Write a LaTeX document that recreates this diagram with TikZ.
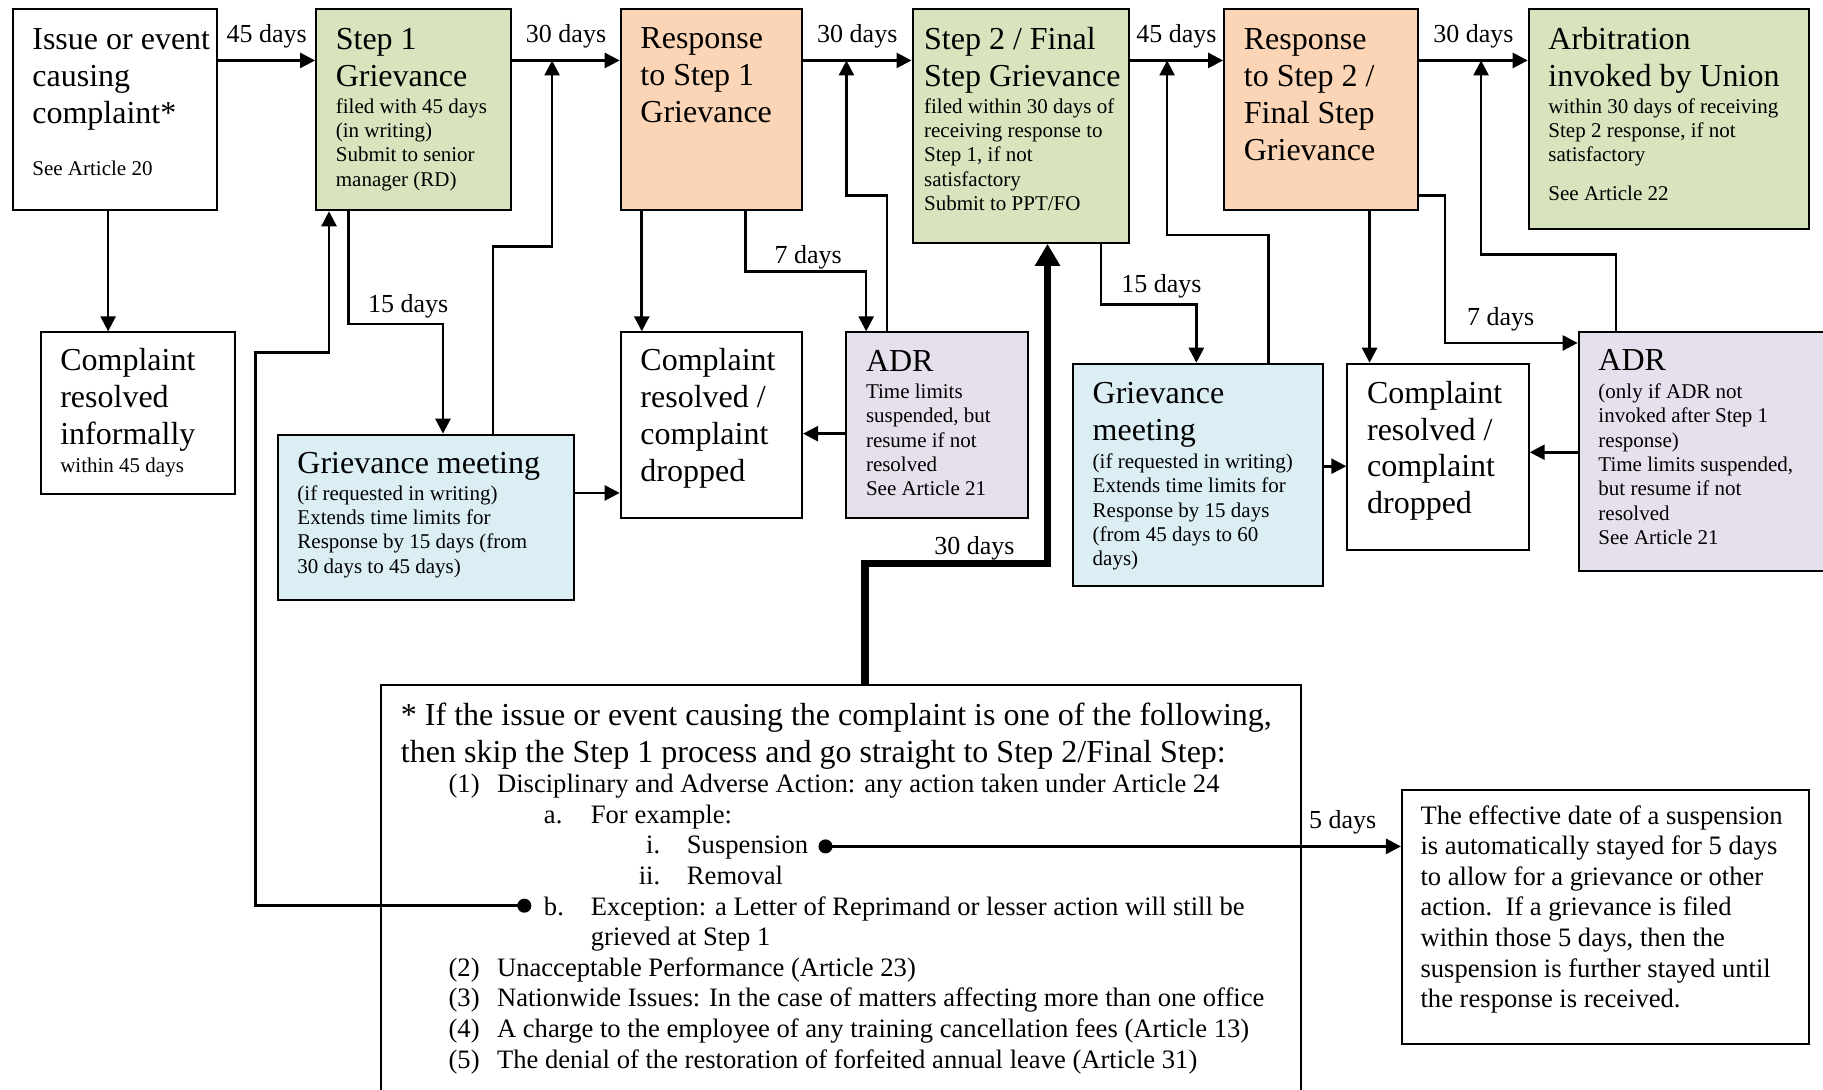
\documentclass[tikz,border=0pt]{standalone}
\usepackage{fontspec}
\setmainfont{Liberation Serif}
\usepackage{xcolor}
\usepackage{tikz}
\usetikzlibrary{arrows.meta, calc}

\definecolor{stepgreen}{HTML}{D7E4BD}
\definecolor{respcolor}{HTML}{FBD5B5}
\definecolor{meetblue}{HTML}{DBEEF4}
\definecolor{adrpurple}{HTML}{E5E0EC}

\newlength\pxu
\setlength\pxu{0.5813pt}
\newlength\boxpad
\setlength\boxpad{17\pxu}

\newcommand{\headfont}{\fontsize{16}{18.4}\selectfont}
\newcommand{\smallfont}{\fontsize{10.5}{12.2}\selectfont}
\newcommand{\listfont}{\fontsize{13.3}{15.3}\selectfont}

% box text: [first baseline]{width}{height}{lines}
\newcommand{\boxtext}[4][35]{\parbox[t][#3\pxu][t]{#2\pxu}{\raggedright\leftskip=\boxpad\rightskip=-12\pxu plus 1fil\rule{0pt}{#1\pxu}#4}}

\begin{document}
\begin{tikzpicture}[
                x=0.5813pt, y=-0.5813pt,
                box/.style={rectangle, draw, line width=1pt, anchor=north west, inner sep=0pt},
                grievance/.style={fill=stepgreen},
                response/.style={fill=respcolor},
                meeting/.style={fill=meetblue},
                adr/.style={fill=adrpurple},
                arr/.style={-{Triangle[length=7.5pt, width=7.5pt]}, line width=1.3pt},
                dotarr/.style={{Circle[length=7pt]}-{Triangle[length=7.5pt, width=7.5pt]}, line width=1.3pt},
                thickarr/.style={-{Triangle[length=11pt, width=12pt]}, line width=3.6pt},
                lbl/.style={font=\fontsize{13}{15}\selectfont, inner sep=2.5pt}
            ]
                \useasboundingbox (0,0) rectangle (1568,937);

                % Top row
                \node[box] (issue) at (10,7) {\boxtext{176}{173}{\headfont Issue or event\\ causing\\ complaint*\\[13.7pt] \smallfont See Article 20}};
                \node[box, grievance] (step1) at (271,7) {\boxtext{168}{173}{\headfont Step 1\\ Grievance\\[1pt] \smallfont filed with 45 days\\ (in writing)\\ Submit to senior\\ manager (RD)}};
                \node[box, response] (resp1) at (533,7) {\boxtext[34]{156}{173}{\headfont Response\\ to Step 1\\ Grievance}};
                \node[box, grievance] (step2) at (784,7) {\setlength\boxpad{10\pxu}\boxtext{186}{201}{\headfont Step 2 / Final\\ Step Grievance\\[1pt] \smallfont filed within 30 days of\\ receiving response to\\ Step 1, if not\\ satisfactory\\ Submit to PPT/FO}};
                \node[box, response] (resp2) at (1052,7) {\boxtext{167}{173}{\headfont Response\\ to Step 2 /\\ Final Step\\ Grievance}};
                \node[box, grievance] (arbit) at (1314,7) {\boxtext{241}{189}{\headfont Arbitration\\ invoked by Union\\[1pt] \smallfont within 30 days of receiving\\ Step 2 response, if not\\ satisfactory\\[7pt] See Article 22}};

                % Second row
                \node[box] (informal) at (34,285) {\boxtext[33]{167}{139}{\headfont Complaint\\ resolved\\ informally\\[1.7pt] \smallfont within 45 days}};
                \node[box, meeting] (meet1) at (238,373) {\boxtext[33]{255}{142}{\headfont Grievance meeting\\[1.3pt] \smallfont (if requested in writing)\\ Extends time limits for\\ Response by 15 days (from\\ 30 days to 45 days)}};
                \node[box] (drop1) at (533,285) {\boxtext[33]{156}{160}{\headfont Complaint\\ resolved /\\ complaint\\ dropped}};
                \node[box, adr] (adr1) at (727,285) {\boxtext[34]{156}{160}{\headfont ADR\\[1pt] \smallfont Time limits\\ suspended, but\\ resume if not\\ resolved\\ See Article 21}};
                \node[box, meeting] (meet2) at (922,312) {\boxtext[34]{215}{191}{\headfont Grievance\\ meeting\\[1.9pt] \smallfont (if requested in writing)\\ Extends time limits for\\ Response by 15 days\\ (from 45 days to 60\\ days)}};
                \node[box] (drop2) at (1158,312) {\boxtext[34]{156}{160}{\headfont Complaint\\ resolved /\\ complaint\\ dropped}};
                \node[box, adr] (adr2) at (1357,285) {\boxtext[33]{225}{205}{\headfont ADR\\[1.6pt] \smallfont (only if ADR not\\ invoked after Step 1\\ response)\\ Time limits suspended,\\ but resume if not\\ resolved\\ See Article 21}};

                % Footnote and suspension boxes
                \node[box] (note) at (327,588) {\boxtext{791}{360}{\headfont * If the issue or event causing the complaint is one of the following,\\ then skip the Step 1 process and go straight to Step 2/Final Step:\\
                    \listfont
                    \hspace*{41\pxu}\makebox[41.7\pxu][l]{(1)}Disciplinary and Adverse Action: any action taken under Article 24\\
                    \hspace*{123\pxu}\makebox[40.4\pxu][l]{a.}For example:\\
                    \makebox[246\pxu][r]{i.\hspace{23\pxu}}Suspension\\
                    \makebox[246\pxu][r]{ii.\hspace{23\pxu}}Removal\\
                    \hspace*{123\pxu}\makebox[40.4\pxu][l]{b.}Exception: a Letter of Reprimand or lesser action will still be\\
                    \hspace*{163.4\pxu}grieved at Step 1\\
                    \hspace*{41\pxu}\makebox[41.7\pxu][l]{(2)}Unacceptable Performance (Article 23)\\
                    \hspace*{41\pxu}\makebox[41.7\pxu][l]{(3)}Nationwide Issues: In the case of matters affecting more than one office\\
                    \hspace*{41\pxu}\makebox[41.7\pxu][l]{(4)}A charge to the employee of any training cancellation fees (Article 13)\\
                    \hspace*{41\pxu}\makebox[41.7\pxu][l]{(5)}The denial of the restoration of forfeited annual leave (Article 31)}};
                \node[box] (effect) at (1205,679) {\setlength\boxpad{16\pxu}\boxtext[29]{350}{218}{\listfont The effective date of a suspension\\ is automatically stayed for 5 days\\ to allow for a grievance or other\\ action.\ \ If a grievance is filed\\ within those 5 days, then the\\ suspension is further stayed until\\ the response is received.}};

                % Helper points
                \coordinate (row) at (0,52);
                \coordinate (j1) at ($(step1.east |- row)!0.37!(resp1.west |- row)$);
                \coordinate (j2) at ($(resp1.east |- row)!0.4!(step2.west |- row)$);
                \coordinate (j3) at ($(step2.east |- row)!0.4!(resp2.west |- row)$);
                \coordinate (j4) at ($(resp2.east |- row)!0.57!(arbit.west |- row)$);
                \coordinate (bdot) at ($(note.north west)+(130,191)$);
                \coordinate (sdot) at ($(note.north west)+(377,140)$);

                % Main flow
                \draw[arr] (issue.east |- row) -- node[lbl, above=3pt] {45 days} (step1.west |- row);
                \draw[arr] (step1.east |- row) -- node[lbl, above=3pt] {30 days} (resp1.west |- row);
                \draw[arr] (resp1.east |- row) -- node[lbl, above=3pt] {30 days} (step2.west |- row);
                \draw[arr] (step2.east |- row) -- node[lbl, above=3pt] {45 days} (resp2.west |- row);
                \draw[arr] (resp2.east |- row) -- node[lbl, above=3pt] {30 days} (arbit.west |- row);

                % Step 1 branches
                \draw[arr] ($(issue.south west)+(83,0)$) -- ($(informal.north west)+(59,0)$);
                \draw[arr] ($(step1.south west)+(29,0)$) -- ++(0,97) -| node[lbl, pos=0.315, above] {15 days} ($(meet1.north west)+(143,0)$);
                \draw[arr] ($(meet1.north west)+(186,0)$) -- ++(0,-161) -| (j1);
                \draw[arr] ($(meet1.north east)+(0,51)$) -- ($(drop1.north west)+(0,139)$);
                \draw[arr] ($(resp1.south west)+(19,0)$) -- ($(drop1.north west)+(19,0)$);
                \draw[arr] ($(resp1.south west)+(108,0)$) -- ++(0,52) -| node[lbl, pos=0.26, above=-2pt] {7 days} ($(adr1.north west)+(18,0)$);
                \draw[arr] ($(adr1.north west)+(36,0)$) -- ++(0,-117) -| (j2);
                \draw[arr] ($(adr1.north west)+(0,88)$) -- ($(drop1.north east)+(0,88)$);

                % Straight to Step 2
                \draw[thickarr] ($(note.north west)+(417,0)$) -- ++(0,-103) -| node[lbl, pos=0.3, above=-2.3pt] {30 days} ($(step2.south west)+(117,0)$);

                % Step 2 branches
                \draw[arr] ($(step2.south west)+(163,0)$) -- ++(0,52) -| node[lbl, pos=0.317, above] {15 days} ($(meet2.north west)+(107,0)$);
                \draw[arr] ($(meet2.north west)+(169,0)$) -- ++(0,-110) -| (j3);
                \draw[arr] ($(meet2.north east)+(0,89)$) -- ($(drop2.north west)+(0,89)$);
                \draw[arr] ($(resp2.south west)+(126,0)$) -- ($(drop2.north west)+(20,0)$);
                \draw[arr] ($(resp2.north east)+(0,161)$) -- ++(22,0) |- node[lbl, pos=0.71, above=3pt] {7 days} ($(adr2.north west)+(0,10)$);
                \draw[arr] ($(adr2.north west)+(33,0)$) -- ++(0,-66) -| (j4);
                \draw[arr] ($(adr2.north west)+(0,104)$) -- ($(drop2.north east)+(0,77)$);

                % Footnote links
                \draw[dotarr] (bdot) -- ++(-237,0) -- ++(0,-476) -| ($(step1.south west)+(12,0)$);
                \draw[dotarr] (sdot) -- node[lbl, pos=0.9, above=3pt] {5 days} (effect.west |- sdot);
            \end{tikzpicture}
\end{document}
